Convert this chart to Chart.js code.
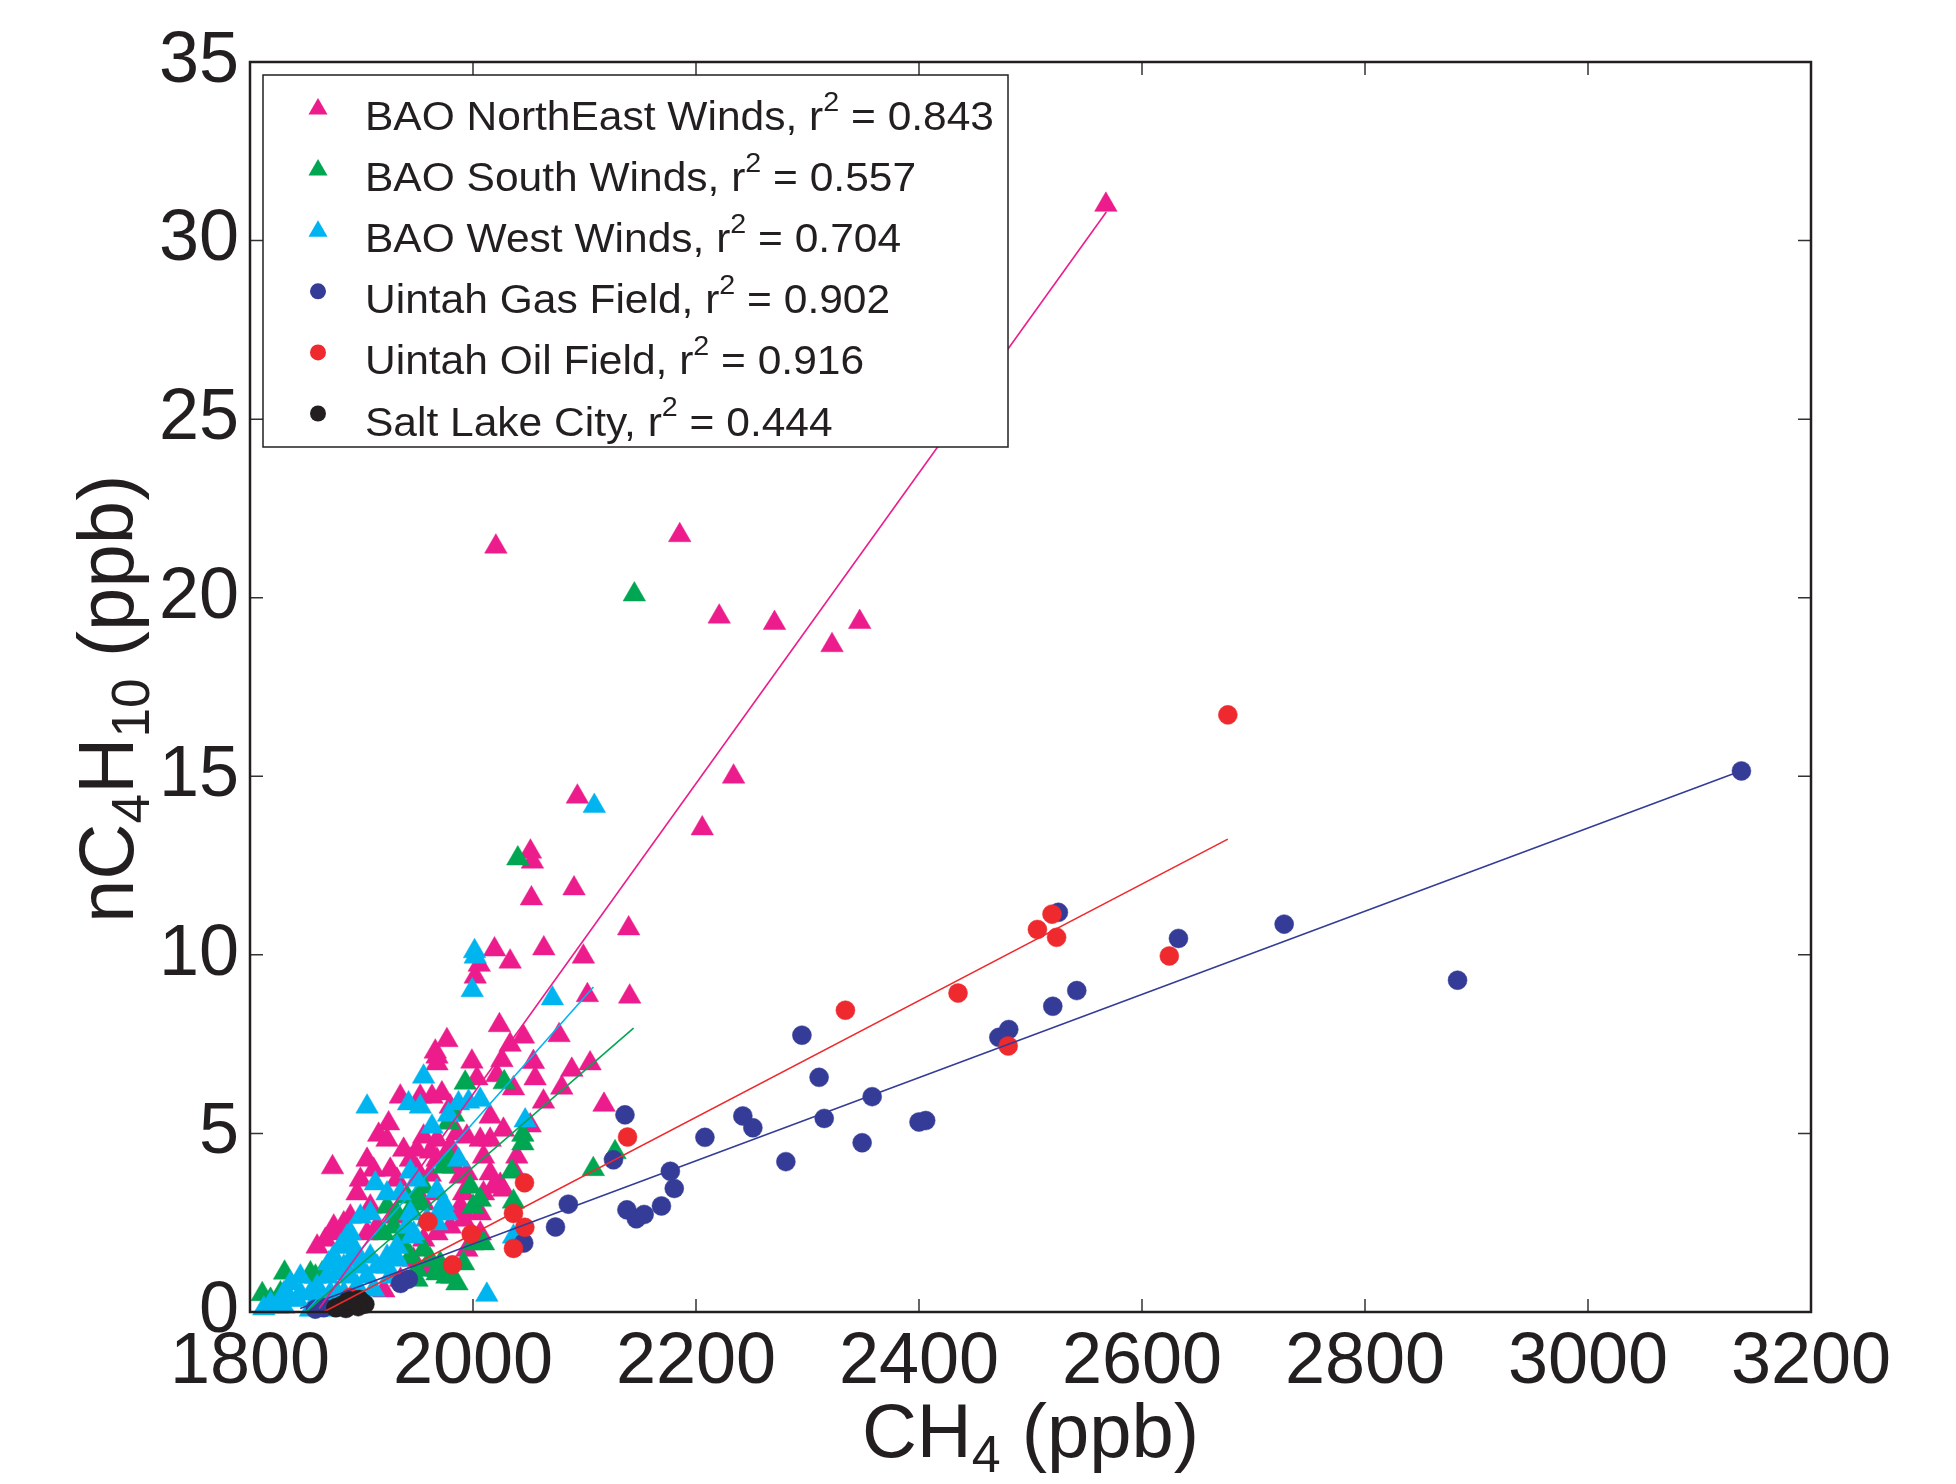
<!DOCTYPE html>
<html>
<head>
<meta charset="utf-8">
<script src="https://cdn.jsdelivr.net/npm/chart.js@4.4.0/dist/chart.umd.min.js"></script>
<style>
html, body { margin: 0; padding: 0; background: #fff; }
canvas { display: block; }
</style>
</head>
<body>
<canvas id="chart" width="1956" height="1484"></canvas>
<script>
// tick labels
var xTickValues = [1800, 2000, 2200, 2400, 2600, 2800, 3000, 3200];
var yTickValues = [0, 5, 10, 15, 20, 25, 30, 35];

// legend text
var seriesLabels = ['BAO NorthEast Winds', 'BAO South Winds', 'BAO West Winds',
                    'Uintah Gas Field', 'Uintah Oil Field', 'Salt Lake City'];
var rSquared = ['0.843', '0.557', '0.704', '0.902', '0.916', '0.444'];

// [CH4, nC4H10] in ppb
var baoNorthEast = [
  [2567.6,31.0],[2185.4,21.75],[2020.5,21.43],[2220.8,19.47],[2270.4,19.29],[2346.8,19.32],[2322,18.67],
  [2233.7,14.99],[2205.6,13.54],[2093.6,14.43],[2051.5,12.89],[2053.3,12.61],[2090.6,11.86],[2052.4,11.58],
  [2139.6,10.74],[2019.3,10.15],[2063.5,10.18],[2033.3,9.81],[2005.6,9.72],[2099,9.95],[2002,9.39],
  [2102.6,8.87],[2140.5,8.83],[2023.7,8.03],[1976.6,7.61],[1966.2,7.29],[1967.7,7.15],[1999,7.01],
  [2025.9,7.05],[2045.2,7.71],[2033.3,7.48],[2077.2,7.75],[2054.2,7.0],[2088.6,6.78],[2105,6.96],
  [2055.7,6.54],[2079.6,6.28],[2063.2,5.89],[2036.3,6.26],[2117.5,5.8],[2051.3,5.22],[2039.3,4.35],
  [2024.4,3.56],[1874,4.05],[2003.5,6.54],[2021.4,6.63],[1934.8,6.03],[1952.7,6.03],[1963.2,6.03],
  [1972.1,6.12],[1979.6,5.75],[2015.4,5.47],[2027.3,5.1],[2015.4,4.82],[1924.3,5.28],[1915.4,4.96],
  [1922.9,4.82],[1955.7,4.91],[1967.7,4.82],[1985.6,5.0],[1994.5,4.91],[1979.6,4.63],[2006.5,4.82],
  [1949.7,4.54],[1961.7,4.49],[1905,4.26],[1910.9,3.98],[1899,3.7],[1925.8,3.98],[1931.8,3.7],
  [1949.7,3.98],[1961.7,3.84],[1982.5,4.07],[1988.5,3.79],[1994.5,3.88],[2015.4,3.88],[2036.3,3.98],
  [2018.4,3.51],[2027.3,3.42],[1988.5,2.95],[1907.9,2.95],[1890,2.67],[1896,3.32],[1867.6,2.02],
  [1860.2,1.83],[1875.1,2.2],[1955.7,2.02],[1967.7,2.2],[1979.6,2.39],[1991.5,2.58],[1994.5,1.74],
  [2006.5,2.2],[1991.5,2.81],[1937.8,4.54],[1943.8,4.26],[1967.7,4.26],[1976.6,4.44],[2009.4,4.35],
  [2009.4,3.32],[1955.7,3.04],[1967.7,3.32],[1991.5,3.32],[2006.5,2.76],[1905,2.2],[1913.9,2.39],
  [1928.8,2.67],[1884.1,2.48],[1875.1,2.39],[1946.7,1.46],[1960,1.2],[1920,0.6],[1935,0.9],[1967.7,6.96]
];
var baoSouth = [
  [2144.7,20.09],[2040.2,12.7],[2044.7,4.96],[2044.7,4.72],[2034.8,3.93],[2036.3,3.09],[2127.4,4.47],
  [2107.9,4.0],[1993,6.42],[2028,6.43],[1982.5,5.52],[1979.6,4.26],[1973.6,4.07],[1997.5,3.51],
  [1955.7,3.51],[1949.7,3.23],[2000,2.95],[2006.5,3.14],[1922.9,2.95],[1931.8,2.76],[1854.2,1.08],
  [1858.7,0.99],[1864.7,1.08],[1818.4,0.34],[1827.3,0.52],[1919.8,2.2],[1928.8,2.39],[1937.8,2.2],
  [1937.8,1.83],[1943.8,1.55],[1955.7,1.74],[1961.7,1.46],[1967.7,1.08],[1949.7,1.18],[1985.6,0.8],
  [1976.6,0.99],[1940.8,3.23],[1943.8,2.86],[1952.7,3.04],[1991.5,1.36],[2009.4,1.92],[2000,1.92],
  [1967.7,1.18],[1970.6,1.36],[1949.7,0.9],[1981.1,0.99],[1978,5.3],[1831,1.1],[1811,0.5]
];
var baoWest = [
  [2108.8,14.17],[2001.4,10.1],[2002,9.95],[1999.3,9.01],[2071.2,8.78],[1955.7,6.59],[1905,5.75],
  [1942.2,5.84],[1952.7,5.75],[1987,5.84],[1996,5.89],[2006.5,5.94],[1963.2,5.19],[1978,5.52],
  [2046.8,5.36],[1943.8,3.93],[1912.4,3.6],[1922.9,3.32],[1987,4.26],[1949.7,3.7],[1973.6,3.04],
  [1969.1,2.76],[1899,2.67],[1907.9,2.76],[1887,2.11],[1881.1,1.83],[1890,2.2],[1875.1,1.55],
  [1870.6,1.36],[1890,1.46],[1896,1.64],[1845.2,0.99],[1836.3,0.8],[1830.3,0.52],[1818.4,0.24],
  [1824.4,0.15],[1836.3,0.34],[1845.2,0.52],[1860.2,0.71],[1869.1,0.99],[1878.1,1.08],[1884.1,1.27],
  [1872.1,0.52],[1884.1,0.52],[1896,0.71],[1905,0.99],[1913.9,1.27],[1922.9,1.55],[1931.8,1.83],
  [1940.8,2.39],[1946.7,2.2],[1930.3,1.55],[1922.9,1.27],[2012.4,0.48],[1958.7,2.58],[1967.7,2.48],
  [1976.6,2.76],[1934.8,3.32],[1943.8,2.76],[1945.3,2.11],[1890,1.83],[1899,1.27],[1907.9,1.55],
  [1890,0.99],[1878.1,0.52],[1860.2,0.34],[1854.2,0.52],[1842.3,0.34],[1830.3,0.15],[1812.4,0.1],
  [1899,0.34],[1910.9,0.62],[1925.8,0.99],[1872.1,0.06],[1854.2,0.06],[2036.3,2.11],[1931.8,1.46],
  [1967.6,3.39]
];
var uintahGas = [
  [3137.6,15.15],[2883,9.29],[2727.5,10.86],[2632.7,10.46],[2541.5,9.0],[2520,8.56],[2525,11.19],
  [2480.5,7.91],[2471.6,7.69],[2406,5.36],[2400,5.32],[2358,6.03],[2349,4.74],[2315,5.42],[2310.4,6.57],
  [2295,7.75],[2280.6,4.21],[2251,5.16],[2242,5.49],[2208,4.89],[2180.5,3.46],[2177,3.94],[2169,2.97],
  [2153.5,2.73],[2146.5,2.61],[2138,2.86],[2136.3,5.52],[2126,4.26],[2085.5,3.02],[2074,2.38],
  [2045.5,1.93],[1942,0.92],[1935,0.8],[1866,0.12],[1858.6,0.08]
];
var uintahOil = [
  [2677,16.72],[2624.5,9.97],[2519.3,11.14],[2506.2,10.71],[2523.4,10.49],[2435,8.93],[2334,8.45],
  [2480,7.45],[2138.6,4.9],[2046.2,3.62],[2046.5,2.37],[2036.3,2.76],[2036.3,1.78],[1998.4,2.18],
  [1981.6,1.32],[1959.6,2.53],[1890,0.41]
];
var saltLake = [
  [1877,0.12],[1882,0.18],[1886,0.1],[1890,0.25],[1893,0.3],[1895,0.2],[1898,0.35],[1900,0.28],
  [1903,0.22],[1897,0.15],[1888,0.32]
];

// end points of the fitted lines
var fitNorthEast = [[1862,0.1],[2568,30.8]];
var fitSouth = [[1850,0.0],[2144,7.95]];
var fitWest = [[1850,0.0],[2108,9.1]];
var fitGas = [[1845,0.1],[3137,15.15]];
var fitOil = [[1866,0.0],[2677,13.24]];

var colors = ['#ec1c8c', '#00a651', '#00b4ef', '#343c97', '#ee2a2e', '#231f20'];
var FONT = '"Liberation Sans", Arial, Helvetica, sans-serif';

function pts(arr) {
  return arr.map(function (p) { return { x: p[0], y: p[1] }; });
}

function scatterSet(i, data, style, order) {
  return {
    label: seriesLabels[i],
    data: pts(data),
    pointStyle: style,
    pointRadius: style == 'triangle' ? 13 : 9.5,
    backgroundColor: colors[i],
    borderColor: colors[i],
    borderWidth: 0.5,
    showLine: false,
    clip: false,
    order: order,
    legendIndex: i
  };
}

function fitSet(i, data) {
  return {
    data: pts(data),
    showLine: true,
    pointRadius: 0,
    borderColor: colors[i],
    borderWidth: 1.6,
    fill: false,
    order: -1
  };
}

// inward ticks on all four sides + box
var framePlugin = {
  id: 'frame',
  afterDatasetsDraw: function (chart) {
    var ctx = chart.ctx, a = chart.chartArea;
    var xs = chart.scales.x, ys = chart.scales.y;
    var len = 13;
    ctx.save();
    ctx.strokeStyle = '#333333';
    ctx.lineWidth = 1.5;
    ctx.beginPath();
    xTickValues.forEach(function (v) {
      var px = xs.getPixelForValue(v);
      ctx.moveTo(px, a.bottom); ctx.lineTo(px, a.bottom - len);
      ctx.moveTo(px, a.top); ctx.lineTo(px, a.top + len);
    });
    yTickValues.forEach(function (v) {
      var py = ys.getPixelForValue(v);
      ctx.moveTo(a.left, py); ctx.lineTo(a.left + len, py);
      ctx.moveTo(a.right, py); ctx.lineTo(a.right - len, py);
    });
    ctx.stroke();
    ctx.strokeStyle = '#231f20';
    ctx.lineWidth = 2.5;
    ctx.strokeRect(a.left, a.top, a.right - a.left, a.bottom - a.top);
    ctx.restore();
  }
};

// text runs with sub/superscripts
function runWidth(ctx, parts, size) {
  var w = 0;
  parts.forEach(function (p) {
    ctx.font = (p.s ? Math.round(size * 0.68) : size) + 'px ' + FONT;
    w += ctx.measureText(p.t).width;
  });
  return w;
}

function drawRun(ctx, parts, x, y, size) {
  parts.forEach(function (p) {
    var fs = p.s ? Math.round(size * 0.68) : size;
    ctx.font = fs + 'px ' + FONT;
    var dy = p.s == 'sub' ? size * 0.2 : (p.s == 'sup' ? -size * 0.48 : 0);
    ctx.fillText(p.t, x, y + dy);
    x += ctx.measureText(p.t).width;
  });
}

var titlePlugin = {
  id: 'axisTitles',
  afterDraw: function (chart) {
    var ctx = chart.ctx, a = chart.chartArea;
    ctx.save();
    ctx.fillStyle = '#231f20';
    ctx.textBaseline = 'alphabetic';
    ctx.textAlign = 'left';

    var xParts = [{ t: 'CH' }, { t: '4', s: 'sub' }, { t: ' (ppb)' }];
    var xw = runWidth(ctx, xParts, 76);
    drawRun(ctx, xParts, (a.left + a.right) / 2 - xw / 2, 1457, 76);

    var yParts = [{ t: 'nC' }, { t: '4', s: 'sub' }, { t: 'H' }, { t: '10', s: 'sub' }, { t: ' (ppb)' }];
    var yw = runWidth(ctx, yParts, 78);
    ctx.translate(133, (a.top + a.bottom) / 2 + 12);
    ctx.rotate(-Math.PI / 2);
    drawRun(ctx, yParts, -yw / 2, 0, 78);
    ctx.restore();
  }
};

var legendPlugin = {
  id: 'boxLegend',
  afterDraw: function (chart) {
    var ctx = chart.ctx;
    var box = { left: 263, top: 75, right: 1008, bottom: 447 };
    var size = 40, rowH = 61.1, firstBase = 130, textX = 365, markX = 318;
    ctx.save();
    ctx.fillStyle = '#ffffff';
    ctx.fillRect(box.left, box.top, box.right - box.left, box.bottom - box.top);
    ctx.strokeStyle = '#231f20';
    ctx.lineWidth = 1.5;
    ctx.strokeRect(box.left, box.top, box.right - box.left, box.bottom - box.top);

    var sets = chart.data.datasets.filter(function (d) { return d.legendIndex !== undefined; });
    sets.sort(function (p, q) { return p.legendIndex - q.legendIndex; });

    var first = [{ t: seriesLabels[0] + ', r' }, { t: '2', s: 'sup' }, { t: ' = ' + rSquared[0] }];
    var sx = 629 / runWidth(ctx, first, size);

    sets.forEach(function (d, k) {
      var base = firstBase + k * rowH;
      var cy = base - 21;
      ctx.fillStyle = d.backgroundColor;
      ctx.beginPath();
      if (d.pointStyle == 'triangle') {
        var r = 11;
        ctx.moveTo(markX, cy - r);
        ctx.lineTo(markX + r * 0.866, cy + r * 0.5);
        ctx.lineTo(markX - r * 0.866, cy + r * 0.5);
        ctx.closePath();
      } else {
        ctx.arc(markX, cy - 1, 8, 0, Math.PI * 2);
      }
      ctx.fill();

      var parts = [{ t: seriesLabels[d.legendIndex] + ', r' }, { t: '2', s: 'sup' }, { t: ' = ' + rSquared[d.legendIndex] }];
      ctx.save();
      ctx.fillStyle = '#231f20';
      ctx.textBaseline = 'alphabetic';
      ctx.translate(textX, base);
      ctx.scale(sx, 1);
      drawRun(ctx, parts, 0, 0, size);
      ctx.restore();
    });
    ctx.restore();
  }
};

var config = {
  type: 'scatter',
  data: {
    datasets: [
      fitSet(0, fitNorthEast), fitSet(1, fitSouth), fitSet(2, fitWest), fitSet(3, fitGas), fitSet(4, fitOil),
      scatterSet(5, saltLake, 'circle', 0),
      scatterSet(4, uintahOil, 'circle', 1),
      scatterSet(3, uintahGas, 'circle', 2),
      scatterSet(2, baoWest, 'triangle', 3),
      scatterSet(1, baoSouth, 'triangle', 4),
      scatterSet(0, baoNorthEast, 'triangle', 5)
    ]
  },
  options: {
    responsive: false,
    animation: false,
    devicePixelRatio: 1,
    layout: { padding: { left: 0, top: 62, right: 145, bottom: 0 } },
    plugins: {
      legend: { display: false },
      tooltip: { enabled: false }
    },
    scales: {
      x: {
        type: 'linear',
        min: 1800, max: 3200,
        afterBuildTicks: function (axis) {
          axis.ticks = xTickValues.map(function (v) { return { value: v }; });
        },
        afterFit: function (axis) { axis.height = 172; },
        grid: { display: false, drawTicks: false },
        border: { display: false },
        ticks: {
          autoSkip: false, maxRotation: 0, padding: 8,
          color: '#231f20',
          font: { family: FONT, size: 72 },
          callback: function (v) { return String(v); }
        }
      },
      y: {
        type: 'linear',
        min: 0, max: 35,
        afterBuildTicks: function (axis) {
          axis.ticks = yTickValues.map(function (v) { return { value: v }; });
        },
        afterFit: function (axis) { axis.width = 250; },
        grid: { display: false, drawTicks: false },
        border: { display: false },
        ticks: {
          autoSkip: false, padding: 11,
          color: '#231f20',
          font: { family: FONT, size: 72 },
          callback: function (v) { return String(v); }
        }
      }
    }
  },
  plugins: [framePlugin, titlePlugin, legendPlugin]
};

var chart = new Chart(document.getElementById('chart'), config);
</script>
</body>
</html>
